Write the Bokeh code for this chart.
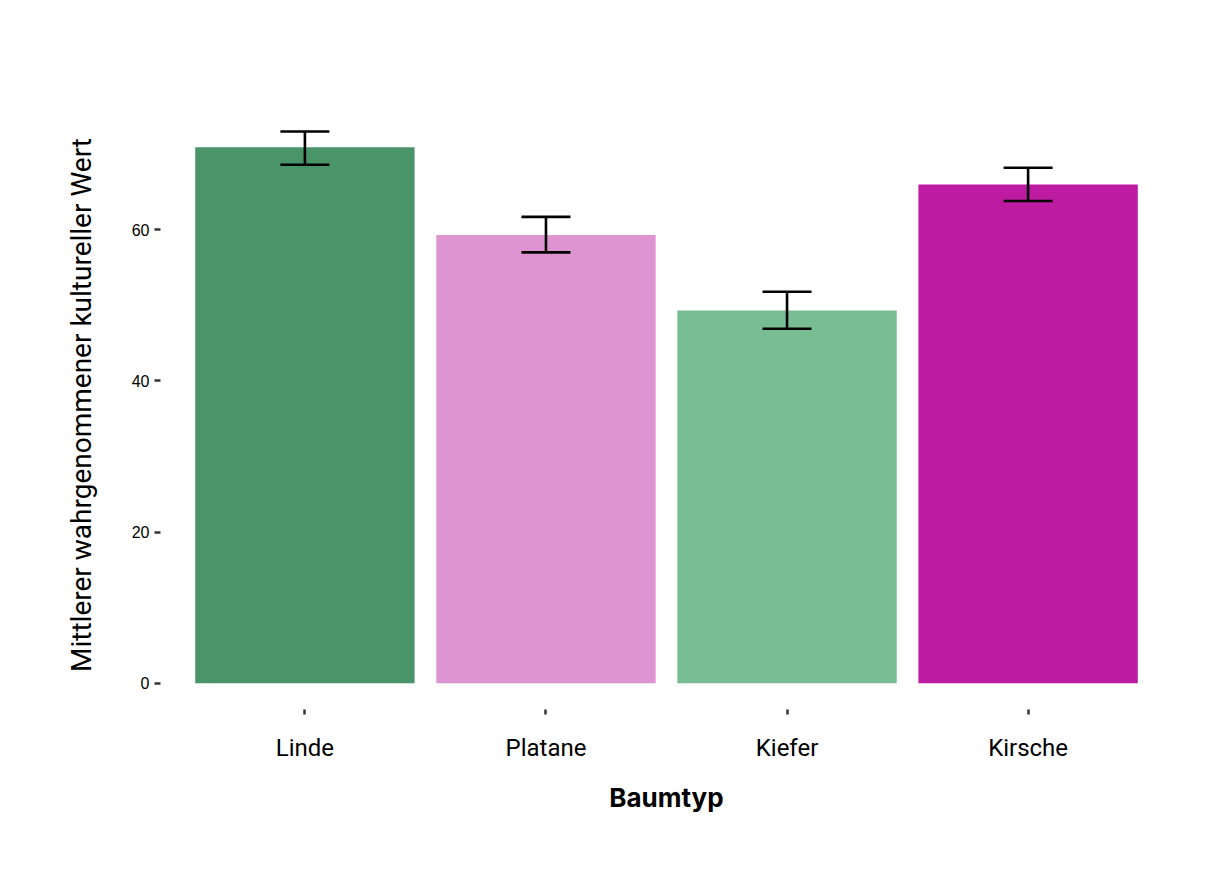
from bokeh.plotting import figure
from bokeh.models import ColumnDataSource, FactorRange, Range1d, Whisker, TeeHead, FixedTicker
from bokeh.embed import file_html
from bokeh.resources import INLINE

baumtyp = ["Linde", "Platane", "Kiefer", "Kirsche"]
mittelwert = [70.9, 59.3, 49.3, 66.0]
obere_grenze = [73.0, 61.7, 51.8, 68.2]
untere_grenze = [68.6, 57.0, 46.9, 63.8]
farben = ["#4A9469", "#DF94D2", "#78BC94", "#BD1BA2"]

src = ColumnDataSource(dict(x=baumtyp, top=mittelwert, upper=obere_grenze,
                            lower=untere_grenze, color=farben))

p = figure(x_range=FactorRange(*baumtyp, range_padding=0.0495, factor_padding=0.0),
           y_range=Range1d(-3.48, 77.1),
           width=1216, height=861, output_backend="svg", toolbar_location=None,
           min_border_left=160, min_border_right=44, min_border_top=100, min_border_bottom=152)

p.vbar(x="x", top="top", bottom=0, width=0.91, color="color", line_color=None, source=src)

# Fehlerbalken über den Balken
whisker = Whisker(base="x", upper="upper", lower="lower", source=src, level="overlay",
                  line_color="black", line_width=2.6,
                  upper_head=TeeHead(size=49, line_color="black", line_width=2.6),
                  lower_head=TeeHead(size=49, line_color="black", line_width=2.6))
p.add_layout(whisker)

p.outline_line_color = None
p.xgrid.grid_line_color = None
p.ygrid.grid_line_color = None
p.background_fill_color = "white"
p.border_fill_color = "white"

p.yaxis.ticker = FixedTicker(ticks=[0, 20, 40, 60])
p.yaxis.axis_label = "Mittlerer wahrgenommener kultureller Wert"
p.yaxis.axis_label_text_font = "Roboto"
p.yaxis.axis_label_text_font_size = "28px"
p.yaxis.axis_label_text_font_style = "normal"
p.yaxis.axis_label_text_color = "black"
p.yaxis.axis_label_standoff = 31
p.yaxis.major_label_text_font = "Liberation Sans"
p.yaxis.major_label_text_font_size = "16px"
p.yaxis.major_label_text_color = "black"
p.yaxis.major_label_standoff = 5

p.xaxis.axis_label = "Baumtyp"
p.xaxis.axis_label_text_font = "Inter"
p.xaxis.axis_label_text_font_size = "26px"
p.xaxis.axis_label_text_font_style = "bold"
p.xaxis.axis_label_text_color = "black"
p.xaxis.axis_label_standoff = 17
p.xaxis.major_label_text_font = "Roboto"
p.xaxis.major_label_text_font_size = "24px"
p.xaxis.major_label_text_color = "black"
p.xaxis.major_label_standoff = 19

for ax in (p.xaxis, p.yaxis):
    ax.axis_line_color = None
    ax.minor_tick_line_color = None
    ax.major_tick_line_color = "#333333"
    ax.major_tick_line_width = 2.5
    ax.major_tick_in = 0
p.xaxis.major_tick_out = 5
p.yaxis.major_tick_out = 6

open("out.html", "w").write(file_html(p, INLINE))
